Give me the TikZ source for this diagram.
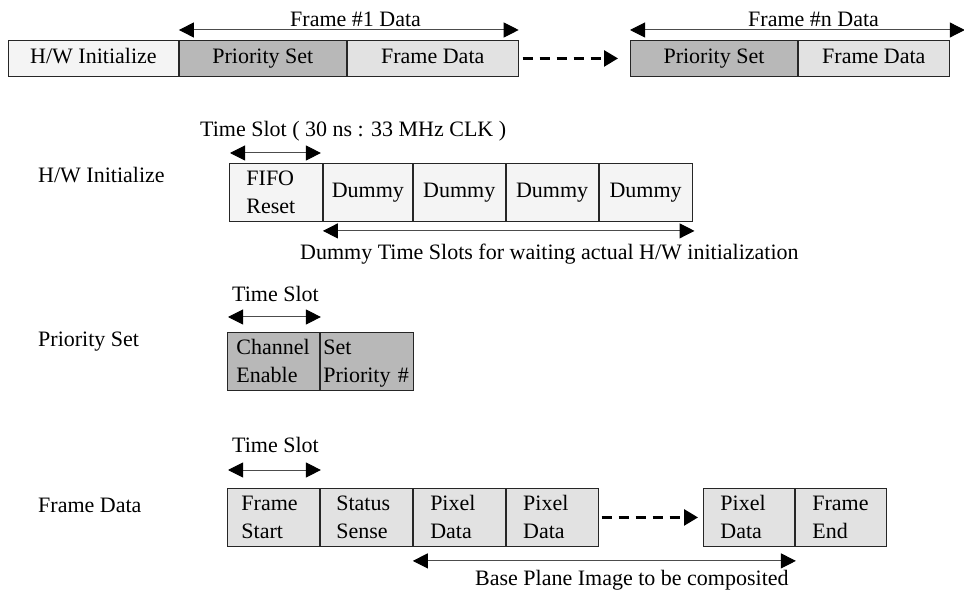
\documentclass[tikz,border=0pt]{standalone}
\usepackage{fontspec}
\setmainfont{Liberation Serif}
\usetikzlibrary{arrows.meta}
\newcommand\myfs{\fontsize{22}{27.5}\selectfont}
\definecolor{lightfill}{HTML}{F4F4F4}
\definecolor{darkfill}{HTML}{B8B8B8}
\definecolor{midfill}{HTML}{E2E2E2}
\begin{document}
\begin{tikzpicture}[x=1pt,y=-1pt,
  cell/.style={draw=black!85, line width=0.9pt, inner sep=0pt, anchor=north west, font=\myfs, minimum height=58pt, text height=15pt, text depth=5pt},
  topcell/.style={cell, minimum height=36pt},
  twoline/.style={text height=19pt, text depth=32.5pt},
  lcell/.style={cell, twoline, align=left},
  ccell/.style={cell, align=center},
  lbl/.style={font=\myfs, anchor=base west, inner sep=0pt},
  dimarrow/.style={draw=black!70, line width=1pt, {Triangle[length=15pt,width=15pt,fill=black,color=black]}-{Triangle[length=15pt,width=15pt,fill=black,color=black]}},
  dasharrow/.style={draw=black, line width=2.6pt, dash pattern=on 10pt off 7pt, -{Triangle[length=14pt,width=16pt]}}
]
\useasboundingbox (0,0) rectangle (964,593);

% ---------- top row ----------
\node[topcell, fill=lightfill, minimum width=170pt] (hw) at (8,40) {H/W Initialize};
\node[topcell, fill=darkfill, minimum width=167pt] (ps1) at (hw.north east) {Priority Set};
\node[topcell, fill=midfill, minimum width=171pt] (fd1) at (ps1.north east) {Frame Data};
\node[topcell, fill=darkfill, minimum width=167pt] (ps2) at (630,40) {Priority Set};
\node[topcell, fill=midfill, minimum width=151pt] (fd2) at (ps2.north east) {Frame Data};

\draw[dimarrow] ([yshift=10pt]ps1.north west) -- ([yshift=10pt]fd1.north east);
\node[lbl] (f1lbl) at (290,27) {Frame \#1 Data};
\draw[dimarrow] ([yshift=10pt]ps2.north west) -- ([yshift=10pt,xshift=15pt]fd2.north east);
\node[lbl] (fnlbl) at (748,27) {Frame \#n Data};
\draw[dasharrow, shorten <=4pt, shorten >=12pt] (fd1.east) -- (ps2.west);

% ---------- H/W Initialize ----------
\node[lbl] (hwlbl) at (38,183) {H/W Initialize};
\node[lbl] (tslong) at (200,137) {Time Slot ( 30 ns : 33 MHz CLK )};
\node[lcell, fill=lightfill, minimum width=93pt, inner xsep=17pt, text width=59pt] (fifo) at (229,163) {FIFO\\Reset};
\node[ccell, fill=lightfill, minimum width=89pt] (d1) at (fifo.north east) {Dummy};
\node[ccell, fill=lightfill, minimum width=92pt] (d2) at (d1.north east) {Dummy};
\node[ccell, fill=lightfill, minimum width=92pt] (d3) at (d2.north east) {Dummy};
\node[ccell, fill=lightfill, minimum width=93pt] (d4) at (d3.north east) {Dummy};
\draw[dimarrow] ([yshift=10pt,xshift=1pt]fifo.north west) -- ([yshift=10pt,xshift=-2pt]fifo.north east);
\draw[dimarrow] ([yshift=-9pt]d1.south west) -- ([yshift=-9pt,xshift=2pt]d4.south east);
\node[lbl] (dumlbl) at (300,260) {Dummy Time Slots for waiting actual H/W initialization};

% ---------- Priority Set ----------
\node[lbl] (pslbl) at (38,347) {Priority Set};
\node[lbl] (ts2) at (232,302) {Time Slot};
\node[lcell, fill=darkfill, minimum width=92pt, inner xsep=9pt, text width=74pt] (ce) at (227,332) {Channel\\Enable};
\node[lcell, fill=darkfill, minimum width=93pt, inner xsep=3pt, text width=87pt] (sp) at (ce.north east) {Set\\Priority \#};
\draw[dimarrow] ([yshift=15pt,xshift=1pt]ce.north west) -- ([yshift=15pt,xshift=1pt]ce.north east);

% ---------- Frame Data ----------
\node[lbl] (fdlbl) at (38,512) {Frame Data};
\node[lbl] (ts3) at (232,453) {Time Slot};
\node[lcell, fill=midfill, minimum width=92pt, inner xsep=14pt, text width=64pt] (fs) at (227,488) {Frame\\Start};
\node[lcell, fill=midfill, minimum width=92pt, inner xsep=16pt, text width=60pt] (ss) at (fs.north east) {Status\\Sense};
\node[lcell, fill=midfill, minimum width=92pt, inner xsep=17pt, text width=58pt] (pd1) at (ss.north east) {Pixel\\Data};
\node[lcell, fill=midfill, minimum width=92pt, inner xsep=17pt, text width=58pt] (pd2) at (pd1.north east) {Pixel\\Data};
\node[lcell, fill=midfill, minimum width=91pt, inner xsep=17pt, text width=57pt] (pd3) at (703,488) {Pixel\\Data};
\node[lcell, fill=midfill, minimum width=91pt, inner xsep=17pt, text width=57pt] (fe) at (pd3.north east) {Frame\\End};
\draw[dimarrow] ([yshift=18pt,xshift=1pt]fs.north west) -- ([yshift=18pt,xshift=1pt]fs.north east);
\draw[dasharrow, shorten <=3pt, shorten >=5pt] (pd2.east) -- (pd3.west);
\draw[dimarrow] ([yshift=-14pt]pd1.south west) -- ([yshift=-14pt,xshift=1pt]pd3.south east);
\node[lbl] (bplbl) at (475,585) {Base Plane Image to be composited};
\end{tikzpicture}
\end{document}
